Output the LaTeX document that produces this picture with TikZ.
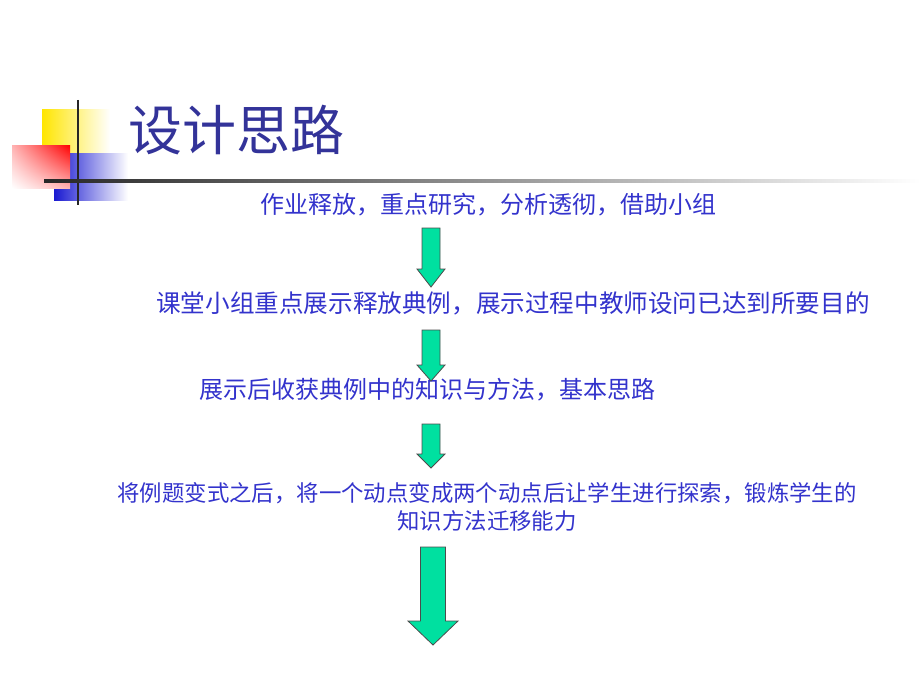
\documentclass[tikz,border=0pt]{standalone}
\usepackage{fontspec}
\newfontfamily\cjk{Noto Sans CJK SC}
\usetikzlibrary{shadings}
\definecolor{titleblue}{HTML}{333399}
\definecolor{stepblue}{HTML}{3333CC}
\definecolor{arrowgreen}{HTML}{00E0A0}
\tikzset{
  stepnode/.style={text=stepblue,font=\cjk\fontsize{24}{28}\selectfont,align=center,inner sep=0pt},
  downarrow/.style={fill=arrowgreen,draw=black!70,line width=0.8pt}
}
% downward block arrow: #1 = x centre, #2 = top, #3 = bottom, #4 = shaft half width, #5 = head half width, #6 = head length
\newcommand{\blockarrow}[6]{
  \draw[downarrow] (#1-#4,#2) -- (#1+#4,#2) -- (#1+#4,#3-#6) -- (#1+#5,#3-#6)
    -- (#1,#3) -- (#1-#5,#3-#6) -- (#1-#4,#3-#6) -- cycle;
}
\begin{document}
\begin{tikzpicture}[x=1pt,y=-1pt]
\useasboundingbox (0,0) rectangle (920,690);

% logo
\shade[left color=yellow!80!orange,right color=white] (42,110) rectangle (110,153);
\shade[left color=blue!80!black!90,right color=white] (54,153) rectangle (128,200);
\shade[lower left=white,upper right=red,lower right=red!30,upper left=red!30] (12,145) rectangle (70,188);
\draw[black!85,line width=2pt] (78,100) -- (78,205);
\shade[left color=black!85,right color=white] (44,179) rectangle (920,182);

\node[anchor=west,text=titleblue,font=\cjk\fontsize{54}{60}\selectfont,inner sep=0pt] (title) at (128,130) {设计思路};

\node[stepnode] (s1) at (488,205) {作业释放，重点研究，分析透彻，借助小组};
\node[stepnode,font=\cjk\fontsize{24.6}{28}\selectfont] (s2) at (513,303) {课堂小组重点展示释放典例，展示过程中教师设问已达到所要目的};
\node[stepnode] (s3) at (427,390) {展示后收获典例中的知识与方法，基本思路};
\node[stepnode,font=\cjk\fontsize{22.4}{28}\selectfont] (s4) at (487,507) {将例题变式之后，将一个动点变成两个动点后让学生进行探索，锻炼学生的\\知识方法迁移能力};

\blockarrow{431}{228}{287}{9}{14}{18}
\blockarrow{431}{330}{381}{9}{14}{16}
\blockarrow{431}{424}{468}{9}{14}{14}
\blockarrow{433}{547}{645}{12.5}{25}{24}
\end{tikzpicture}
\end{document}
